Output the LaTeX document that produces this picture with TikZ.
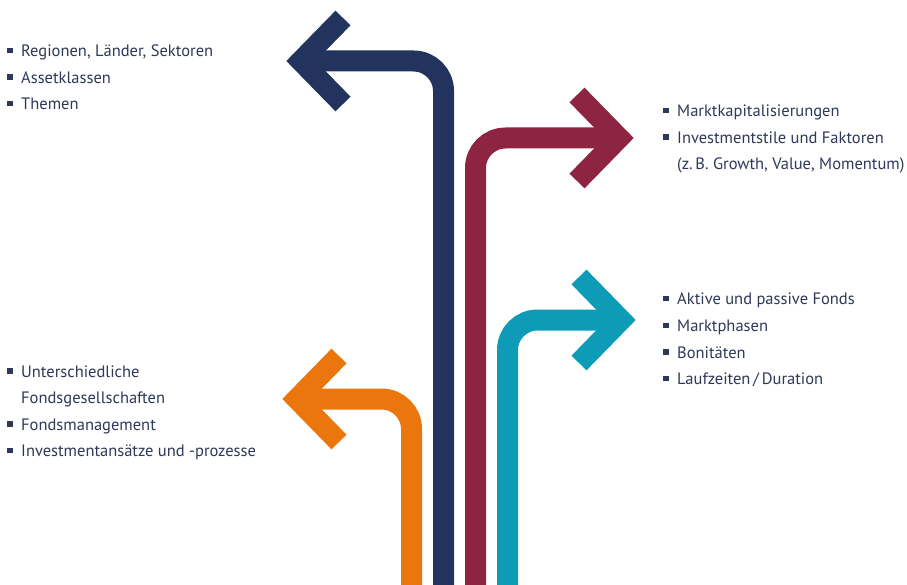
\documentclass[tikz,border=0pt]{standalone}
\usepackage{fontspec}
\setmainfont{PT Sans}

\definecolor{navy}{RGB}{34,51,94}
\definecolor{crimson}{RGB}{141,36,66}
\definecolor{teal}{RGB}{14,155,184}
\definecolor{orange}{RGB}{236,118,14}
\definecolor{txt}{RGB}{46,56,88}

\newcommand{\bul}{\llap{\rule[3.5pt]{5.5pt}{5.5pt}\hspace{8.5pt}}}

\begin{document}
\begin{tikzpicture}[x=1pt, y=-1pt,
        band/.style={line width=21pt},
        head/.style={line width=21pt, miter limit=10},
        item/.style={anchor=base west, inner sep=0pt, text=txt, font=\fontsize{16.5}{20}\selectfont}]
        \useasboundingbox (0,0) rectangle (907,585);

        % arrows
        \coordinate (navybot) at (443.5,585);
        \coordinate (navytip) at (301,61);
        \coordinate (orangebot) at (411.5,585);
        \coordinate (orangetip) at (297,399);
        \coordinate (crimsonbot) at (475.5,585);
        \coordinate (crimsontip) at (619,138);
        \coordinate (tealbot) at (507.5,585);
        \coordinate (tealtip) at (621,320);

        \draw[band, navy, rounded corners=30pt] (navybot) -- (navybot |- navytip) -- (navytip);
        \draw[head, navy] (343,18) -- (navytip) -- (343,104);

        \draw[band, orange, rounded corners=30pt] (orangebot) -- (orangebot |- orangetip) -- (orangetip);
        \draw[head, orange] (339,356) -- (orangetip) -- (339,442);

        \draw[band, crimson, rounded corners=30pt] (crimsonbot) -- (crimsonbot |- crimsontip) -- (crimsontip);
        \draw[head, crimson] (577,95) -- (crimsontip) -- (577,181);

        \draw[band, teal, rounded corners=30pt] (tealbot) -- (tealbot |- tealtip) -- (tealtip);
        \draw[head, teal] (579,277) -- (tealtip) -- (579,363);

        % lists
        \node[item] (regionen) at (21,57) {\bul Regionen, Länder, Sektoren};
        \node[item] (asset) at (21,83.5) {\bul Assetklassen};
        \node[item] (themen) at (21,110) {\bul Themen};

        \node[item] (markt) at (677,117) {\bul Marktkapitalisierungen};
        \node[item] (stile) at (677,143.5) {\bul Investmentstile und Faktoren};
        \node[item] (growth) at (677,170) {(z.\,B. Growth, Value, Momentum)};

        \node[item] (aktiv) at (677,305) {\bul Aktive und passive Fonds};
        \node[item] (phasen) at (677,331.5) {\bul Marktphasen};
        \node[item] (boni) at (677,358) {\bul Bonitäten};
        \node[item] (lauf) at (677,384.5) {\bul Laufzeiten\,/\,Duration};

        \node[item] (unter) at (21,377) {\bul Unterschiedliche};
        \node[item] (gesell) at (21,403.5) {Fondsgesellschaften};
        \node[item] (fonds) at (21,430) {\bul Fondsmanagement};
        \node[item] (ansatz) at (21,456.5) {\bul Investmentansätze und -prozesse};
\end{tikzpicture}
\end{document}
